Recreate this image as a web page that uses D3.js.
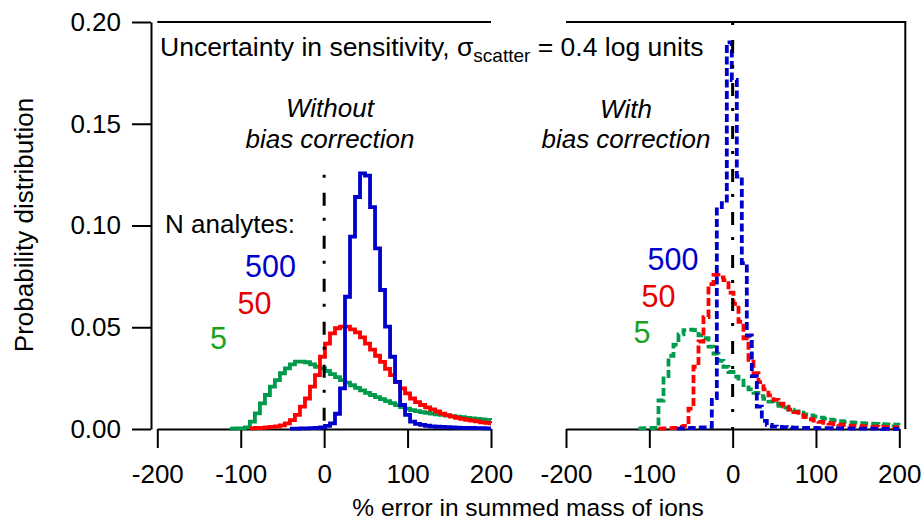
<!DOCTYPE html>
<html>
<head>
<meta charset="utf-8">
<script src="https://cdn.jsdelivr.net/npm/d3@7"></script>
<style>
  html, body { margin: 0; padding: 0; background: #fff; }
  svg { display: block; }
</style>
</head>
<body>
<svg id="chart" width="923" height="522"></svg>
<script>
// ---------------- DATA ----------------
const xTicks = [-200, -100, 0, 100, 200];
const yTicks = [0, 0.05, 0.10, 0.15, 0.20];
const xDomain = [-200, 200];
const yDomain = [0, 0.20];
const binWidth = 6;                 // % error per histogram bin
const nAnalytes = ["500", "50", "5"];
const refLineTopLeft = 0.125;       // top of the 0 % reference line, left panel

// Without bias correction (solid lines) — first bin left edge, then bin heights
const noCorr5Start = -113;
const noCorr5 = [0.0002,0.0003,0.0003,0.0008,0.0036,0.0077,0.0126,0.0167,0.0208,0.024,0.0274,0.0298,0.0318,0.0331,0.0331,0.0328,0.0318,0.0306,0.0298,
  0.0285,0.027,0.0255,0.024,0.0228,0.0215,0.0202,0.019,0.0178,0.0167,0.0157,0.0147,0.0137,0.0127,0.0118,0.0108,0.01,
  0.0093,0.0088,0.0083,0.0079,0.0076,0.0072,0.0069,0.0066,0.0063,0.0061,0.0058,0.0055,0.0052,0.005,0.0047,0.0045,0.0044];
const noCorr50Start = -89;
const noCorr50 = [0.0003,0.0005,0.0006,0.0008,0.001,0.0013,0.0018,0.0028,0.0044,0.0069,0.011,0.015,0.0208,0.0265,0.0355,
  0.042,0.047,0.0495,0.0503,0.0503,0.049,0.0475,0.045,0.042,0.039,0.036,0.033,0.0295,0.0265,0.023,0.02,0.0175,
  0.015,0.0132,0.0118,0.0106,0.0096,0.0086,0.0076,0.0068,0.0061,0.0055,0.005,0.0045,0.0041,0.0037,0.0033,0.003,0.0028];
const noCorr500Start = -41;
const noCorr500 = [0.0002,0.0002,0.0003,0.0003,0.0004,0.0005,0.0008,0.0015,0.0028,0.0075,0.02,0.065,0.0945,0.114,0.1256,0.1245,
  0.109,0.0888,0.0683,0.0503,0.0355,0.0232,0.0118,0.0069,0.0036,0.0025,0.002,0.0016,0.0013,0.0011,0.001,0.0009,
  0.0008,0.0007,0.0006,0.0005,0.0005,0.0004,0.0004,0.0003,0.0003];

// With bias correction (dashed lines)
const corr5Start = -113;
const corr5 = [0.0003,0.0004,0.0005,0.0006,0.014,0.026,0.036,0.0415,0.0465,0.0486,0.0488,0.0486,0.046,0.0446,0.0405,0.037,0.0335,0.0305,0.028,
  0.0257,0.0237,0.0216,0.0195,0.0178,0.0162,0.0148,0.0135,0.0124,0.0114,0.0105,0.0095,0.0087,0.008,0.0072,0.0067,0.0061,
  0.0056,0.0051,0.0046,0.0042,0.0038,0.0035,0.0033,0.0031,0.0029,0.0028,0.0026,0.0025,0.0024,0.0023,0.0022,0.0021,0.002];
const corr50Start = -89;
const corr50 = [0.0002,0.0003,0.0004,0.0006,0.001,0.0015,0.01,0.0306,0.043,0.055,0.0712,0.0757,0.0745,0.0732,0.067,
  0.0615,0.0527,0.0446,0.034,0.0275,0.023,0.0195,0.0165,0.0143,0.0125,0.011,0.0095,0.0083,0.0068,0.0058,0.0048,0.0041,
  0.0035,0.003,0.0027,0.0024,0.0021,0.0019,0.0017,0.0015,0.0014,0.0013,0.0012,0.0011,0.001,0.0009,0.0009,0.0008,0.0008];
const corr500Start = -67;
const corr500 = [0.0002,0.0003,0.0004,0.0005,0.0007,0.0008,0.001,0.0152,0.109,0.111,0.19,
  0.1715,0.124,0.0815,0.046,0.026,0.011,0.004,0.002,0.0012,0.001,0.0009,0.0008,0.0007,0.0006,
  0.0006,0.0005,0.0005,0.0004,0.0004,0.0004,0.0003,0.0003,0.0003,0.0003,0.0002,0.0002,0.0002,0.0002,0.0002,0.0002,0.0001,0.0001,0.0001,0.0001];

// ---------------- STYLE / LAYOUT ----------------
const FONT = "'Liberation Sans', Arial, Helvetica, sans-serif";
const colors = { "500": "#0000cc", "50": "#ff0000", "5": "#009a4c" };
const labelColors = { "500": "#0000cc", "50": "#e60000", "5": "#1aa31a" };

const svg = d3.select("#chart");
const yTop = 22, yBot = 429;
const y = d3.scaleLinear().domain(yDomain).range([yBot, yTop]);
const xL = d3.scaleLinear().domain(xDomain).range([157.3, 491]);
const xR = d3.scaleLinear().domain(xDomain).range([566, 899.3]);

function styleAxis(g) {
  g.selectAll("path.domain").attr("stroke", "#000").attr("stroke-width", 2);
  g.selectAll(".tick line").attr("stroke", "#000").attr("stroke-width", 2);
  g.selectAll(".tick text").attr("fill", "#000").style("font-family", FONT).style("font-size", "26px");
}

// Left y axis (offset from the plot area)
svg.append("g").attr("transform", "translate(151,0)")
  .call(d3.axisLeft(y).tickValues(yTicks).tickSize(19).tickSizeOuter(0).tickPadding(11).tickFormat(d3.format(".2f")))
  .call(styleAxis);

// Bottom axes
[xL, xR].forEach(x => {
  svg.append("g").attr("transform", `translate(0,${yBot})`)
    .call(d3.axisBottom(x).tickValues(xTicks).tickSize(19).tickSizeOuter(0).tickPadding(17).tickFormat(d => String(d)))
    .call(styleAxis);
});

// Frame lines: top of left panel, top + right side of right panel
svg.append("path")
  .attr("d", `M${xL(-200)},${y(0.2)}H${xL(200)}`)
  .attr("stroke", "#000").attr("stroke-width", 2).attr("fill", "none");
svg.append("path")
  .attr("d", `M${xR(-200)},${y(0.2)}H${xR(200) + 6}V${y(0)}`)
  .attr("stroke", "#000").attr("stroke-width", 2).attr("fill", "none");

// Histograms
function stepPoints(start, vals) {
  const pts = vals.map((v, i) => [start + i * binWidth, v]);
  const endX = Math.min(start + vals.length * binWidth, xDomain[1]);
  pts.push([endX, vals[vals.length - 1]]);
  return pts.filter(p => p[0] <= xDomain[1]);
}
function drawHist(x, start, vals, key, dashed) {
  const line = d3.line().x(d => x(d[0])).y(d => y(d[1])).curve(d3.curveStepAfter);
  svg.append("path")
    .attr("d", line(stepPoints(start, vals)))
    .attr("fill", "none")
    .attr("stroke", colors[key])
    .attr("stroke-width", 3.8)
    .attr("stroke-linejoin", "miter")
    .attr("stroke-dasharray", dashed ? "8,3.5" : null);
}
drawHist(xL, noCorr5Start, noCorr5, "5", false);
drawHist(xL, noCorr50Start, noCorr50, "50", false);
drawHist(xL, noCorr500Start, noCorr500, "500", false);
drawHist(xR, corr5Start, corr5, "5", true);
drawHist(xR, corr50Start, corr50, "50", true);
drawHist(xR, corr500Start, corr500, "500", true);

// Zero-error reference lines (dash-dot)
svg.append("line")
  .attr("x1", xL(0)).attr("x2", xL(0)).attr("y1", y(refLineTopLeft)).attr("y2", y(0))
  .attr("stroke", "#000").attr("stroke-width", 3).attr("stroke-dasharray", "3,15,13,12");
svg.append("line")
  .attr("x1", xR(0)).attr("x2", xR(0)).attr("y1", y(0.2)).attr("y2", y(0))
  .attr("stroke", "#000").attr("stroke-width", 3).attr("stroke-dasharray", "3,15,13,12");

// ---------------- TEXT ----------------
function txt(x, yy, s, opts = {}) {
  const t = svg.append("text").attr("x", x).attr("y", yy)
    .style("font-family", FONT)
    .style("font-size", (opts.size || 26) + "px")
    .style("font-style", opts.italic ? "italic" : "normal")
    .attr("fill", opts.fill || "#000")
    .attr("text-anchor", opts.anchor || "start")
    .text(s);
  return t;
}

// Annotation with subscript
const ann = svg.append("text").attr("x", 160).attr("y", 56)
  .style("font-family", FONT).style("font-size", "26.5px").attr("fill", "#000");
ann.append("tspan").text("Uncertainty in sensitivity, σ");
ann.append("tspan").attr("dy", 6).style("font-size", "19px").text("scatter");
ann.append("tspan").attr("dy", -6).text(" = 0.4 log units");

txt(330, 117, "Without", { italic: true, anchor: "middle" });
txt(330, 148, "bias correction", { italic: true, anchor: "middle" });
txt(626, 118, "With", { italic: true, anchor: "middle" });
txt(626, 148, "bias correction", { italic: true, anchor: "middle" });

txt(165, 233, "N analytes:");

const leftLabelPos = { "500": [245, 277], "50": [237.5, 313.5], "5": [210, 348.5] };
const rightLabelPos = { "500": [647.5, 270], "50": [641.5, 307], "5": [633.5, 343] };
nAnalytes.forEach(k => {
  txt(leftLabelPos[k][0], leftLabelPos[k][1], k, { size: 30.5, fill: labelColors[k] });
  txt(rightLabelPos[k][0], rightLabelPos[k][1], k, { size: 30.5, fill: labelColors[k] });
});

// Axis titles
svg.append("text")
  .attr("transform", "translate(33,225) rotate(-90)")
  .attr("text-anchor", "middle")
  .style("font-family", FONT).style("font-size", "26px").attr("fill", "#000")
  .text("Probability distribution");
txt(528, 516, "% error in summed mass of ions", { size: 24.5, anchor: "middle" });
</script>
</body>
</html>
